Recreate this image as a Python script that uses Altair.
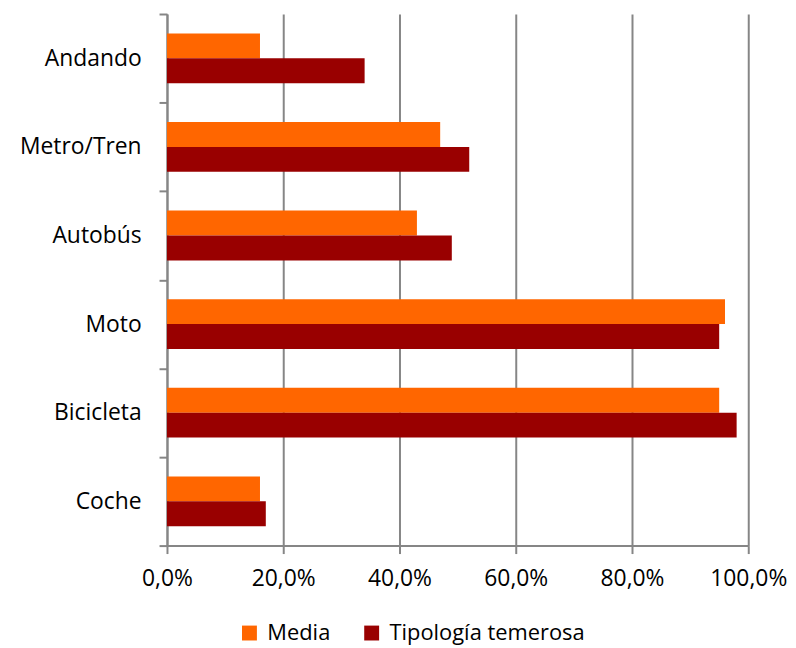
import altair as alt
import pandas as pd

categories = ["Andando", "Metro/Tren", "Autobús", "Moto", "Bicicleta", "Coche"]
series = ["Media", "Tipología temerosa"]
media = [16, 47, 43, 96, 95, 16]
temerosa = [34, 52, 49, 95, 98, 17]
x_ticks = [0, 20, 40, 60, 80, 100]
colors = ["#FF6600", "#990000"]

rows = []
for c, m, t in zip(categories, media, temerosa):
    rows.append({"cat": c, "serie": series[0], "valor": m})
    rows.append({"cat": c, "serie": series[1], "valor": t})
df = pd.DataFrame(rows)

GRAY = "#868686"
FONT = "Open Sans"
FS = 23

bars = alt.Chart(df).mark_bar().encode(
    y=alt.Y(
        "cat:N",
        sort=categories,
        scale=alt.Scale(paddingInner=0, paddingOuter=0),
        axis=alt.Axis(
            title=None,
            tickBand="extent",
            tickSize=8,
            tickWidth=2,
            tickColor=GRAY,
            domainColor=GRAY,
            domainWidth=2,
            labelFontSize=FS,
            labelFont=FONT,
            labelColor="#000000",
            labelPadding=18,
            labelLimit=300,
            grid=False,
        ),
    ),
    yOffset=alt.YOffset(
        "serie:N", sort=series, scale=alt.Scale(paddingInner=0, paddingOuter=0.78)
    ),
    x=alt.X(
        "valor:Q",
        scale=alt.Scale(domain=[0, 100], nice=False),
        axis=alt.Axis(
            title=None,
            values=x_ticks,
            labelExpr="replace(format(datum.value, '.1f'), '.', ',') + '%'",
            labelFlush=False,
            tickSize=8,
            tickWidth=2,
            tickColor=GRAY,
            domainColor=GRAY,
            domainWidth=2,
            grid=True,
            gridColor=GRAY,
            gridWidth=2,
            labelFontSize=FS,
            labelFont=FONT,
            labelColor="#000000",
            labelPadding=14,
        ),
    ),
    color=alt.Color(
        "serie:N",
        sort=series,
        scale=alt.Scale(domain=series, range=colors),
        legend=alt.Legend(
            title=None,
            orient="none",
            direction="horizontal",
            legendX=72,
            legendY=612,
            symbolType="square",
            symbolSize=225,
            symbolStrokeWidth=0,
            labelFontSize=22,
            labelFont=FONT,
            labelColor="#000000",
            labelOffset=7,
            labelLimit=400,
            columnPadding=30,
        ),
    ),
)

chart = bars.properties(
    width=585,
    height=535,
    autosize=alt.AutoSizeParams(type="none"),
    padding={"left": 160, "top": 4, "right": 40, "bottom": 100},
).configure_view(stroke=None)

chart.save("out.html", embed_options={"renderer": "svg", "actions": False})
